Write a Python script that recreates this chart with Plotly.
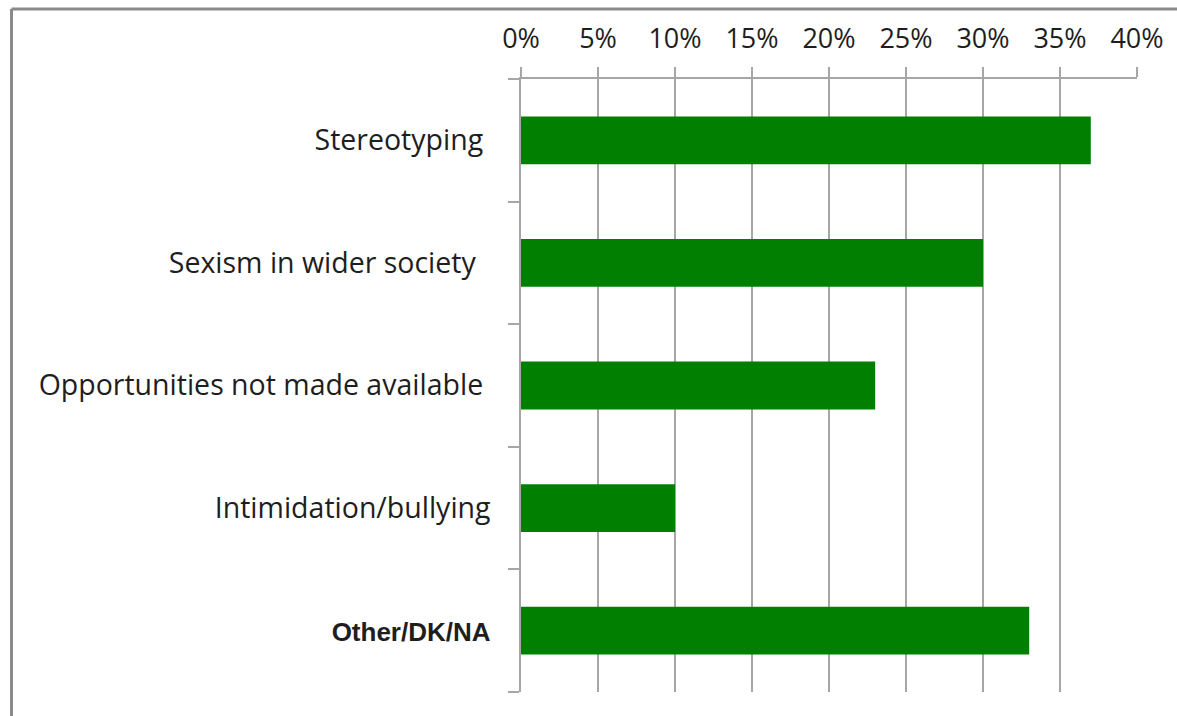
import plotly.graph_objects as go

# Survey categories (top to bottom) and share of responses
categories = [
    "Stereotyping",
    "Sexism in wider society",
    "Opportunities not made available",
    "Intimidation/bullying",
    "Other/DK/NA",
]
shares = [0.37, 0.30, 0.23, 0.10, 0.33]
tick_labels = [
    "Stereotyping ",
    "Sexism in wider society  ",
    "Opportunities not made available ",
    "Intimidation/bullying",
    "<span style='font-family:Liberation Sans;font-size:26px'><b>Other/DK/NA</b></span>",
]
x_ticks = [0.0, 0.05, 0.10, 0.15, 0.20, 0.25, 0.30, 0.35, 0.40]

W, H = 1177, 716
ML, MR, MT, MB = 521, 40, 79, 24
PW, PH = W - ML - MR, H - MT - MB

GRID = "#a6a6a6"
TEXT = "#1e1e1e"
FONT = "Open Sans"


def px_x(px):
    return (px - ML) / PW


def px_y(py):
    return (H - MB - py) / PH


fig = go.Figure(
    go.Bar(
        x=shares,
        y=categories,
        orientation="h",
        width=0.39,
        marker=dict(color="#007f00", line=dict(width=0)),
        hoverinfo="x+y",
    )
)

fig.update_layout(
    width=W,
    height=H,
    margin=dict(l=ML, r=MR, t=MT, b=MB, pad=0),
    paper_bgcolor="white",
    plot_bgcolor="white",
    showlegend=False,
    font=dict(family=FONT, size=26, color=TEXT),
    xaxis=dict(
        side="top",
        range=[0, 0.40],
        tickvals=x_ticks,
        tickformat=".0%",
        ticks="outside",
        ticklen=10,
        tickwidth=1.5,
        tickcolor=GRID,
        ticklabelstandoff=8,
        showgrid=True,
        gridcolor=GRID,
        gridwidth=1.5,
        showline=True,
        linecolor=GRID,
        linewidth=1.5,
        zeroline=False,
        automargin=False,
        fixedrange=True,
        tickfont=dict(family=FONT, size=27, color=TEXT),
    ),
    yaxis=dict(
        type="category",
        categoryorder="array",
        categoryarray=categories,
        autorange="reversed",
        tickmode="array",
        tickvals=categories,
        ticktext=tick_labels,
        tickson="boundaries",
        ticks="outside",
        ticklen=11,
        tickwidth=1.5,
        tickcolor=GRID,
        ticklabelstandoff=23,
        showgrid=False,
        showline=True,
        linecolor=GRID,
        linewidth=1.5,
        zeroline=False,
        automargin=False,
        fixedrange=True,
        tickfont=dict(family=FONT, size=28.5, color=TEXT),
    ),
)

# Outer frame: left and top edges
BORDER = dict(color="#8a8a8a", width=3)
fig.add_shape(type="line", xref="paper", yref="paper",
              x0=px_x(11.5), x1=px_x(11.5), y0=px_y(9), y1=px_y(H + 2), line=BORDER)
fig.add_shape(type="line", xref="paper", yref="paper",
              x0=px_x(11.5), x1=px_x(W + 2), y0=px_y(9), y1=px_y(9), line=BORDER)

fig.write_html("out.html")
